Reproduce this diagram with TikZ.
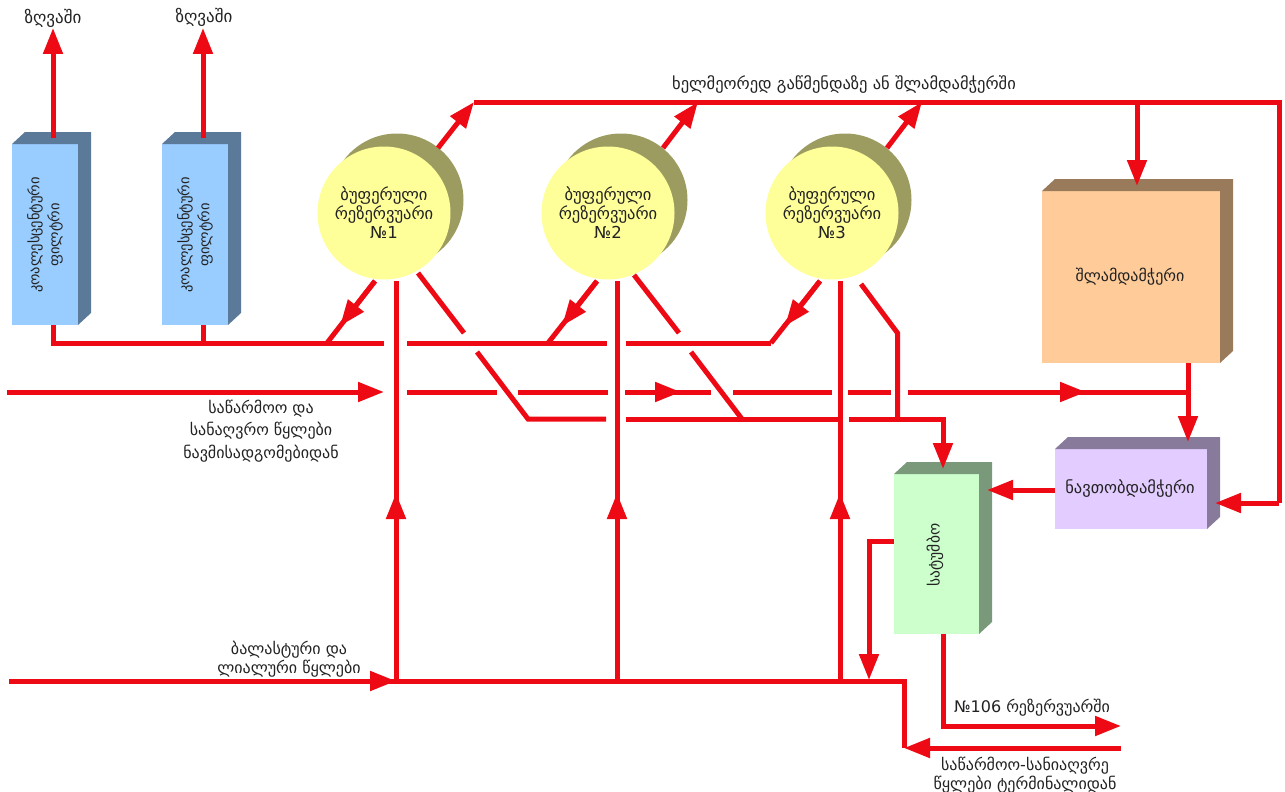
\documentclass[tikz,border=0pt]{standalone}
\usepackage{xcolor}
\usepackage{fontspec}
\setmainfont{DejaVu Sans}
\usepackage{tikz}
\usetikzlibrary{arrows.meta, positioning}
\definecolor{pipered}{HTML}{EE0A14}
\definecolor{ink}{HTML}{222222}
\definecolor{fblue}{HTML}{99CCFF}
\definecolor{fbluedk}{HTML}{5B7A99}
\definecolor{tyellow}{HTML}{FFFF99}
\definecolor{tyellowdk}{HTML}{9C9C60}
\definecolor{sorange}{HTML}{FFCC99}
\definecolor{sorangedk}{HTML}{997A5B}
\definecolor{opurple}{HTML}{E3CCFF}
\definecolor{opurpledk}{HTML}{887A9A}
\definecolor{pgreen}{HTML}{CCFFCC}
\definecolor{pgreendk}{HTML}{7A997A}
\newcommand{\slabfaces}[2]{\fill[#2] (#1.north west) -- ++(13,-12) -- ([shift={(13,-12)}]#1.north east) -- ([shift={(13,-12)}]#1.south east) -- (#1.south east) -- (#1.north east) -- cycle;}

\begin{document}
\begin{tikzpicture}[x=1pt,y=-1pt]
    \tikzset{slab/.style = {inner sep=0,outer sep=0}}
    \tikzset{tank/.style = {shape=circle,inner sep=0,outer sep=0,minimum size=133,align=center,text=ink,font=\fontsize{16.5}{19}\selectfont}}
    \tikzset{txt/.style = {inner sep=0,outer sep=0,align=center,text=ink,font=\fontsize{16}{22.5}\selectfont}}
    \tikzset{pipe/.style = {draw=pipered,line width=5pt}}
    \tikzset{flow/.style = {pipe,-{Triangle[length=26pt,width=19pt]}}}
    \useasboundingbox (0,0) rectangle (1285,792);
    % filters
    \node[slab,fill=fblue,minimum width=66,minimum height=181] (f1) at (45,234.5) {};
    \node[slab,fill=fblue,minimum width=66,minimum height=181] (f2) at (195,234.5) {};
    \slabfaces{f1}{fbluedk}
    \slabfaces{f2}{fbluedk}
    \node[txt,rotate=90,font=\fontsize{14.5}{20}\selectfont] (f1t) at (45,235) {კოალესცენტური\\ფილტრი};
    \node[txt,rotate=90,font=\fontsize{14.5}{20}\selectfont] (f2t) at (195,235) {კოალესცენტური\\ფილტრი};
    % tanks
    \node[tank,fill=tyellowdk] (r1b) at (397,200) {};
    \node[tank,fill=tyellowdk] (r2b) at (621,200) {};
    \node[tank,fill=tyellowdk] (r3b) at (845,200) {};
    \node[tank,fill=tyellow] (r1) at (384,213) {ბუფერული\\რეზერვუარი\\№1};
    \node[tank,fill=tyellow] (r2) at (608,213) {ბუფერული\\რეზერვუარი\\№2};
    \node[tank,fill=tyellow] (r3) at (832,213) {ბუფერული\\რეზერვუარი\\№3};
    % boxes
    \node[slab,fill=sorange,minimum width=178,minimum height=172] (sl) at (1131,277) {};
    \node[slab,fill=opurple,minimum width=152,minimum height=80] (ne) at (1131,489) {};
    \node[slab,fill=pgreen,minimum width=85,minimum height=160] (pu) at (936.5,554) {};
    \slabfaces{sl}{sorangedk}
    \slabfaces{ne}{opurpledk}
    \slabfaces{pu}{pgreendk}
    \node[txt] (slt) at (1130,277) {შლამდამჭერი};
    \node[txt,font=\fontsize{16.5}{19}\selectfont] (net) at (1130,489) {ნავთობდამჭერი};
    \node[txt,rotate=90,font=\fontsize{15.5}{19}\selectfont] (put) at (935,555) {სატუმბო};
    % labels
    \node[txt,font=\fontsize{17}{19}\selectfont] (sea1) at (53,18) {ზღვაში};
    \node[txt,font=\fontsize{17}{19}\selectfont] (sea2) at (204,17) {ზღვაში};
    \node[txt,font=\fontsize{16.5}{19}\selectfont] (again) at (844,85) {ხელმეორედ გაწმენდაზე ან შლამდამჭერში};
    \node[txt] (port) at (261,431) {საწარმოო და\\სანაღვრო წყლები\\ნავმისადგომებიდან};
    \node[txt,font=\fontsize{16}{19}\selectfont] (ball) at (289,659) {ბალასტური და\\ლიალური წყლები};
    \node[txt] (r106) at (1032,708) {№106 რეზერვუარში};
    \node[txt,font=\fontsize{16}{19}\selectfont] (term) at (1025,775) {საწარმოო-სანიაღვრე\\წყლები ტერმინალიდან};
    % points
    \coordinate (f1u) at (53,138);
    \coordinate (f1s) at (53,28);
    \coordinate (f2u) at (203,138);
    \coordinate (f2s) at (203,28);
    \coordinate (f1d) at (53,325);
    \coordinate (f2d) at (203,325);
    \coordinate (c1) at (53,343);
    \coordinate (c2) at (203,343);
    \coordinate (c3) at (327,343);
    \coordinate (c4) at (384,343);
    \coordinate (c5) at (407,343);
    \coordinate (c6) at (548,343);
    \coordinate (c7) at (607,343);
    \coordinate (c8) at (626,343);
    \coordinate (c9) at (771,343);
    \coordinate (o1) at (438,148);
    \coordinate (o1t) at (474,102);
    \coordinate (o2) at (663,148);
    \coordinate (o2t) at (698,102);
    \coordinate (o3) at (887,148);
    \coordinate (o3t) at (922,102);
    \coordinate (t1) at (1137,102);
    \coordinate (t2) at (1137,186);
    \coordinate (t3) at (1279,102);
    \coordinate (t4) at (1279,503);
    \coordinate (t5) at (1215,503);
    \coordinate (i1) at (375,281);
    \coordinate (i1t) at (340,326);
    \coordinate (i2) at (597,281);
    \coordinate (i2t) at (562,326);
    \coordinate (i3) at (820,281);
    \coordinate (i3t) at (785,326);
    \coordinate (d1a) at (418,273);
    \coordinate (d1b) at (464,333);
    \coordinate (d1c) at (477,352);
    \coordinate (d1d) at (528,419);
    \coordinate (d2a) at (634,275);
    \coordinate (d2b) at (679,333);
    \coordinate (d2c) at (691,352);
    \coordinate (d2d) at (742,419);
    \coordinate (d3a) at (861,284);
    \coordinate (d3b) at (897.5,333);
    \coordinate (d3c) at (897.5,419);
    \coordinate (w1) at (606,419);
    \coordinate (w2) at (626,419);
    \coordinate (w3) at (840,419);
    \coordinate (w4) at (849,419);
    \coordinate (w5) at (943,419);
    \coordinate (w6) at (943,469);
    \coordinate (p0) at (7,392);
    \coordinate (p1) at (384,392);
    \coordinate (p2) at (407,392);
    \coordinate (p3) at (497,392);
    \coordinate (p4) at (518,392);
    \coordinate (p5) at (608,392);
    \coordinate (p6) at (625,392);
    \coordinate (p7) at (681,392);
    \coordinate (p8) at (711,392);
    \coordinate (p9) at (733,392);
    \coordinate (p10) at (832,392);
    \coordinate (p11) at (848,392);
    \coordinate (p12) at (891,392);
    \coordinate (p13) at (908,392);
    \coordinate (p14) at (1086,392);
    \coordinate (p15) at (1188,392);
    \coordinate (s1) at (1188,363);
    \coordinate (s2) at (1188,442);
    \coordinate (n1) at (1055,490);
    \coordinate (n2) at (987,490);
    \coordinate (u1) at (894,541);
    \coordinate (u2) at (869,541);
    \coordinate (u3) at (869,680);
    \coordinate (u4) at (943,634);
    \coordinate (u5) at (943,726);
    \coordinate (u6) at (1121,726);
    \coordinate (b0) at (9,681);
    \coordinate (b1) at (396,681);
    \coordinate (b2) at (617,681);
    \coordinate (b3) at (840,681);
    \coordinate (b4) at (904,681);
    \coordinate (b5) at (904,748);
    \coordinate (b6) at (1121,748);
    \coordinate (v1a) at (396,493);
    \coordinate (v1b) at (396,281);
    \coordinate (v2a) at (617,493);
    \coordinate (v2b) at (617,281);
    \coordinate (v3a) at (840,493);
    \coordinate (v3b) at (840,281);
    % edges
    \draw[flow] (f1u) to (f1s);
    \draw[flow] (f2u) to (f2s);
    \draw[pipe] (f1d) -- (c1) -- (c4);
    \draw[pipe] (f2d) -- (c2);
    \draw[pipe] (c5) -- (c7);
    \draw[pipe] (c8) -- (c9);
    \draw[flow] (o1) to (o1t);
    \draw[flow] (o2) to (o2t);
    \draw[flow] (o3) to (o3t);
    \draw[pipe] (o1t) -- (t3) -- (t4);
    \draw[flow] (t4) -- (t5);
    \draw[flow] (t1) to (t2);
    \draw[pipe] (i1) -- (c3);
    \draw[flow] (i1) to (i1t);
    \draw[pipe] (i2) -- (c6);
    \draw[flow] (i2) to (i2t);
    \draw[pipe] (i3) -- (c9);
    \draw[flow] (i3) to (i3t);
    \draw[pipe] (d1a) -- (d1b);
    \draw[pipe] (d1c) -- (d1d) -- (w1);
    \draw[pipe] (d2a) -- (d2b);
    \draw[pipe] (d2c) -- (d2d);
    \draw[pipe] (d3a) -- (d3b) -- (d3c);
    \draw[pipe] (w2) -- (w3);
    \draw[flow] (w4) -- (w5) -- (w6);
    \draw[flow] (p0) to (p1);
    \draw[pipe] (p2) -- (p3);
    \draw[pipe] (p4) -- (p5);
    \draw[pipe] (p6) -- (p8);
    \draw[flow] (p6) to (p7);
    \draw[pipe] (p9) -- (p10);
    \draw[pipe] (p11) -- (p12);
    \draw[pipe] (p13) -- (p15);
    \draw[flow] (p13) to (p14);
    \draw[flow] (s1) to (s2);
    \draw[flow] (n1) to (n2);
    \draw[flow] (u1) -- (u2) -- (u3);
    \draw[flow] (u4) -- (u5) -- (u6);
    \draw[pipe] (b0) -- (b4) -- (b5);
    \draw[flow] (b0) to (b1);
    \draw[flow] (b6) to (b5);
    \draw[pipe] (b1) -- (v1b);
    \draw[flow] (b1) to (v1a);
    \draw[pipe] (b2) -- (v2b);
    \draw[flow] (b2) to (v2a);
    \draw[pipe] (b3) -- (v3b);
    \draw[flow] (b3) to (v3a);
\end{tikzpicture}
\end{document}
